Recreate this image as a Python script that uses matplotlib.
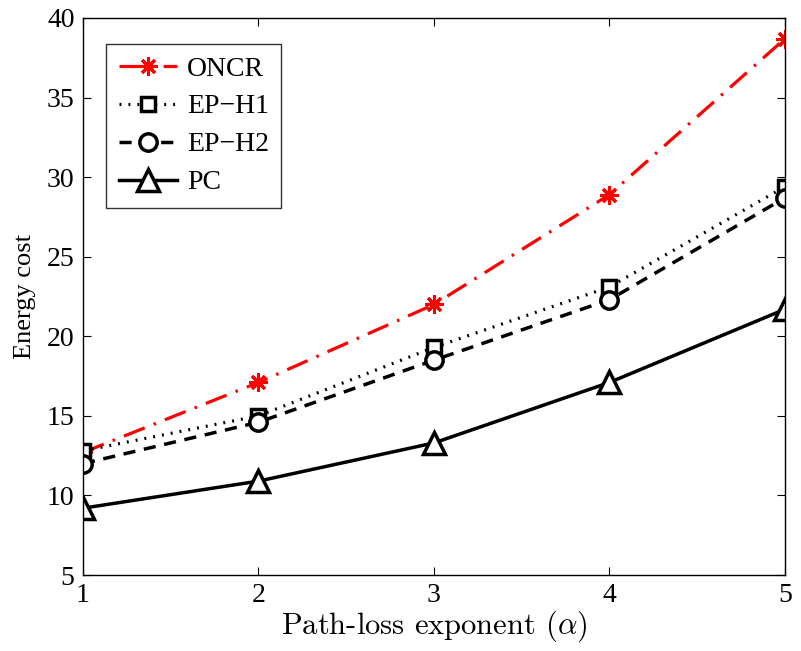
import matplotlib
matplotlib.use('Agg')
import matplotlib.pyplot as plt

plt.rcParams['font.family'] = ['Liberation Serif', 'DejaVu Serif']
plt.rcParams['mathtext.fontset'] = 'cm'

alpha = [1, 2, 3, 4, 5]
oncr = [12.7, 17.1, 22.0, 28.9, 38.7]
ep_h1 = [12.8, 15.0, 19.3, 23.1, 29.4]
ep_h2 = [12.0, 14.6, 18.5, 22.3, 28.7]
pc = [9.2, 10.9, 13.3, 17.1, 21.7]

fig = plt.figure(figsize=(8.01, 6.51), dpi=100)
ax = fig.add_axes([0.1036, 0.1167, 0.8764, 0.8557])

ax.plot(alpha, oncr, color='red', ls=(0, (7, 3, 0.8, 3)), lw=2.3,
        marker=(8, 2, 0), ms=13, mew=2.2, label='ONCR')
ax.plot(alpha, ep_h1, color='black', ls=(0, (0.6, 2.2)), lw=2.3,
        marker='s', ms=10.5, mfc='white', mew=2.5, label='EP\u2212H1')
ax.plot(alpha, ep_h2, color='black', ls=(0, (3.5, 2.5)), lw=2.5,
        marker='o', ms=12.5, mfc='white', mew=2.5, label='EP\u2212H2')
ax.plot(alpha, pc, color='black', ls='-', lw=2.5,
        marker='^', ms=16, mfc='white', mew=2.5, label='PC')

ax.set_xlim(1, 5)
ax.set_ylim(5, 40)
ax.set_xticks([1, 2, 3, 4, 5])
ax.set_yticks(range(5, 41, 5))
ax.tick_params(direction='in', top=True, right=True, labelsize=20, length=6, width=0.8, pad=6)
for s in ax.spines.values():
    s.set_linewidth(1.0)

ax.set_ylabel('Energy cost', fontsize=19, labelpad=8)
ax.set_xlabel(r'Path-loss exponent ($\alpha$)', fontsize=22, family='cmr10', labelpad=0)

leg = ax.legend(loc='upper left', bbox_to_anchor=(0.033, 0.954), fontsize=20,
                frameon=True, fancybox=False, edgecolor='black', handlelength=2.1,
                borderpad=0.45, labelspacing=0.45, handletextpad=0.35, borderaxespad=0)
leg.get_frame().set_linewidth(1.0)

fig.savefig('out.png', dpi=100)
